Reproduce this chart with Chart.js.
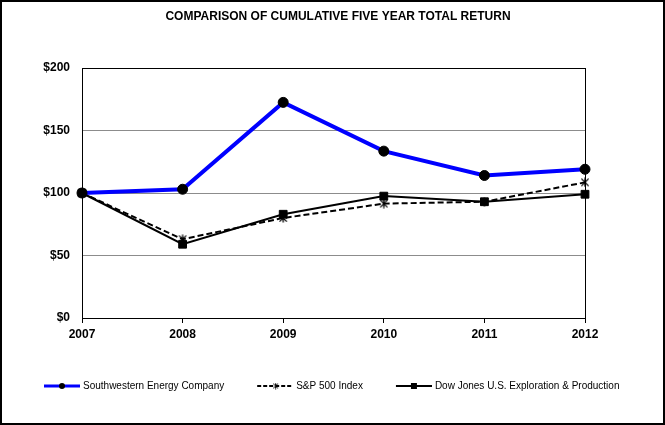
<!DOCTYPE html>
<html>
<head>
<meta charset="utf-8">
<title>Comparison of Cumulative Five Year Total Return</title>
<script src="https://cdn.jsdelivr.net/npm/chart.js@4.4.1/dist/chart.umd.min.js"></script>
<style>
  html, body { margin: 0; padding: 0; background: #fff; }
  canvas { display: block; }
</style>
</head>
<body>
<canvas id="chart" width="665" height="425"></canvas>
<script>
// values ($100 invested in 2007)
const years = ['2007', '2008', '2009', '2010', '2011', '2012'];
const southwestern = [100, 103, 172.5, 133.5, 114, 119];
const sp500 = [100, 63, 80, 91.5, 93, 108.5];
const dowJonesEP = [100, 59, 83, 97.5, 93, 99];
const seriesNames = ['Southwestern Energy Company', 'S&P 500 Index', 'Dow Jones U.S. Exploration & Production'];
const yTicks = [0, 50, 100, 150, 200];

const FONT = 'Arial, "Liberation Sans", sans-serif';

function makeCanvas(w, h) {
  const c = document.createElement('canvas');
  c.width = w;
  c.height = h;
  return c;
}

// asterisk marker used by the S&P line
function starMarker(size, lw) {
  const c = makeCanvas(size, size);
  const g = c.getContext('2d');
  const m = size / 2, r = size / 2 - 0.5, d = r * 0.8;
  g.strokeStyle = '#000';
  g.lineWidth = lw;
  g.beginPath();
  g.moveTo(m, m - r); g.lineTo(m, m + r);
  g.moveTo(m - d, m - d); g.lineTo(m + d, m + d);
  g.moveTo(m + d, m - d); g.lineTo(m - d, m + d);
  g.stroke();
  return c;
}

// legend swatch: short line with the marker in the middle, blank lead on the left
function legendIcon(kind) {
  const lead = 25, len = 36;
  const c = makeCanvas(lead + len, 10);
  const g = c.getContext('2d');
  const y = 5, mx = lead + len / 2;
  g.beginPath();
  g.moveTo(lead, y);
  g.lineTo(lead + len, y);
  if (kind === 0) {
    g.strokeStyle = '#0000ff';
    g.lineWidth = 3;
  } else {
    g.strokeStyle = '#000';
    g.lineWidth = 2;
    if (kind === 1) g.setLineDash([4, 2]);
  }
  g.stroke();
  g.setLineDash([]);
  g.fillStyle = '#000';
  if (kind === 0) {
    g.beginPath();
    g.arc(mx, y, 3, 0, Math.PI * 2);
    g.fill();
  } else if (kind === 1) {
    g.drawImage(starMarker(7, 1), Math.round(mx - 3.5), y - 3.5);
  } else {
    g.fillRect(mx - 3, y - 3, 6, 6);
  }
  return c;
}

const legendIcons = [legendIcon(0), legendIcon(1), legendIcon(2)];

const frame = {
  id: 'frame',
  beforeDraw(chart) {
    const { ctx, width, height } = chart;
    ctx.save();
    ctx.fillStyle = '#fff';
    ctx.fillRect(0, 0, width, height);
    ctx.restore();
  },
  beforeDatasetsDraw(chart) {
    const { ctx, chartArea: a } = chart;
    ctx.save();
    ctx.strokeStyle = '#000';
    ctx.lineWidth = 1;
    ctx.strokeRect(Math.round(a.left) + 0.5, Math.round(a.top) + 0.5,
      Math.round(a.right - a.left), Math.round(a.bottom - a.top));
    ctx.restore();
  },
  afterDraw(chart) {
    const { ctx, width, height } = chart;
    ctx.save();
    ctx.strokeStyle = '#000';
    ctx.lineWidth = 2;
    ctx.strokeRect(1, 1, width - 2, height - 2);
    ctx.restore();
  }
};

new Chart(document.getElementById('chart'), {
  type: 'line',
  data: {
    labels: years,
    datasets: [
      {
        label: seriesNames[0],
        data: southwestern,
        borderColor: '#0000ff',
        borderWidth: 4,
        pointStyle: 'circle',
        pointRadius: 5,
        pointBackgroundColor: '#000',
        pointBorderColor: '#000',
        pointBorderWidth: 1
      },
      {
        label: seriesNames[1],
        data: sp500,
        borderColor: '#000',
        borderWidth: 2,
        borderDash: [6, 3],
        pointStyle: starMarker(10, 1.3),
        pointRadius: 5
      },
      {
        label: seriesNames[2],
        data: dowJonesEP,
        borderColor: '#000',
        borderWidth: 2,
        pointStyle: 'rect',
        pointRadius: 5.5,
        pointBackgroundColor: '#000',
        pointBorderColor: '#000',
        pointBorderWidth: 1
      }
    ]
  },
  options: {
    responsive: false,
    animation: false,
    devicePixelRatio: 1,
    layout: { padding: { left: 11, right: 0, top: 0, bottom: 24 } },
    elements: { line: { tension: 0, fill: false } },
    datasets: { line: { clip: false } },
    plugins: {
      title: {
        display: true,
        text: 'COMPARISON OF CUMULATIVE FIVE YEAR TOTAL RETURN',
        color: '#000',
        font: { family: FONT, size: 12, weight: 'bold' },
        padding: { top: 9, bottom: 44.6 }
      },
      legend: {
        position: 'bottom',
        align: 'start',
        labels: {
          usePointStyle: true,
          pointStyleWidth: 57,
          padding: 10,
          color: '#000',
          font: { family: FONT, size: 10 },
          generateLabels: chart => chart.data.datasets.map((ds, i) => ({
            text: ds.label,
            pointStyle: legendIcons[i],
            datasetIndex: i,
            hidden: false,
            lineWidth: 0,
            fillStyle: 'transparent',
            strokeStyle: 'transparent',
            fontColor: '#000'
          }))
        }
      },
      tooltip: { enabled: false }
    },
    scales: {
      x: {
        offset: false,
        ticks: {
          color: '#000',
          font: { family: FONT, size: 12, weight: 'bold' },
          padding: 4,
          maxRotation: 0,
          autoSkip: false
        },
        grid: { drawOnChartArea: false, drawTicks: true, tickLength: 5, color: '#000' },
        border: { display: true, color: '#000' },
        afterFit: s => { s.height = 53; }
      },
      y: {
        min: 0,
        max: 200,
        afterBuildTicks: s => { s.ticks = yTicks.map(v => ({ value: v })); },
        ticks: {
          callback: v => '$' + v,
          color: '#000',
          font: { family: FONT, size: 12, weight: 'bold' },
          padding: 12
        },
        grid: { color: '#8c8c8c', drawTicks: false },
        border: { display: true, color: '#000' },
        afterFit: s => { s.width = 71; }
      },
      yRight: {
        position: 'right',
        grid: { display: false },
        border: { display: false },
        ticks: { display: false },
        afterFit: s => { s.width = 80; }
      }
    }
  },
  plugins: [frame]
});
</script>
</body>
</html>
